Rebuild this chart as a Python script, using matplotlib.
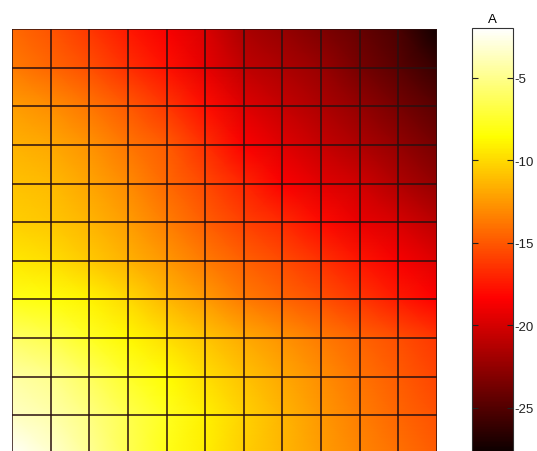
import numpy as np
import matplotlib
matplotlib.use("Agg")
import matplotlib.pyplot as plt

plt.rcParams['font.family'] = ['Liberation Sans', 'DejaVu Sans']

# grid node coordinates (columns left->right, rows bottom->top)
x_nodes = list(range(12))
y_nodes = list(range(12))

# values of A at the grid nodes, rows listed from bottom (row 0) to top (row 11)
A_rows = [
    [-2.2, -3.3, -4.8, -6.5, -8.0, -9.2, -10.4, -11.3, -12.3, -13.2, -14.0, -14.8],
    [-3.6, -4.2, -5.3, -6.6, -7.8, -9.1, -10.3, -11.4, -12.5, -13.5, -14.4, -15.3],
    [-4.4, -5.0, -6.2, -7.5, -8.6, -9.8, -10.9, -11.9, -12.9, -13.9, -14.8, -15.8],
    [-6.0, -6.6, -7.7, -8.8, -9.8, -10.8, -11.8, -12.7, -13.6, -14.5, -15.4, -16.3],
    [-8.0, -8.3, -9.0, -10.0, -11.3, -12.4, -13.6, -14.4, -15.3, -16.3, -17.4, -18.4],
    [-9.4, -9.8, -10.6, -11.5, -12.5, -13.6, -14.6, -15.5, -16.5, -17.6, -18.6, -19.6],
    [-10.4, -10.7, -11.4, -12.3, -13.5, -14.7, -15.9, -16.8, -18.0, -19.2, -19.9, -21.0],
    [-10.9, -11.2, -12.0, -13.0, -14.3, -15.6, -17.0, -18.5, -19.5, -20.2, -21.4, -22.5],
    [-11.5, -11.9, -12.7, -13.8, -14.9, -16.6, -18.5, -19.6, -20.6, -21.5, -22.5, -23.6],
    [-12.3, -12.9, -13.8, -15.0, -16.3, -17.9, -19.6, -20.6, -21.5, -22.5, -23.6, -24.7],
    [-13.6, -14.4, -15.4, -16.6, -17.8, -19.3, -20.8, -21.5, -22.3, -23.6, -24.7, -26.0],
    [-14.3, -15.2, -16.3, -17.5, -18.6, -19.8, -21.6, -22.4, -23.3, -24.2, -25.3, -27.4],
]

# colour limits shown on the colorbar
c_min, c_max = -27.8, -2.0
cbar_ticks = [-5, -10, -15, -20, -25]
cbar_label = "A"

W, H = 537, 452
fig = plt.figure(figsize=(W / 100, H / 100), dpi=100)

ax = fig.add_axes([12 / W, 1 - 455 / H, 425 / W, 425 / H])
X, Y = np.meshgrid(x_nodes, y_nodes)
Z = np.array(A_rows)
mesh = ax.pcolormesh(X, Y, Z, cmap='hot', shading='gouraud',
                     vmin=c_min, vmax=c_max)
ax.vlines(x_nodes, y_nodes[0], y_nodes[-1], colors='#2a1010', lw=1.1)
ax.hlines(y_nodes, x_nodes[0], x_nodes[-1], colors='#2a1010', lw=1.1)
ax.set_xlim(x_nodes[0], x_nodes[-1])
ax.set_ylim(y_nodes[0], y_nodes[-1])
ax.set_axis_off()

cax = fig.add_axes([472 / W, 1 - 455 / H, 41 / W, 426 / H])
cb = fig.colorbar(mesh, cax=cax)
cb.set_ticks(cbar_ticks)
cb.set_ticklabels([str(t) for t in cbar_ticks])
cb.outline.set_edgecolor('#333333')
cb.outline.set_linewidth(0.8)
cax.tick_params(axis='y', which='both', direction='in', length=4, width=0.8,
                left=True, right=True, labelleft=False, labelright=True,
                labelsize=9.5, pad=1, colors='#222222')
cax.minorticks_off()
cax.set_title(cbar_label, fontsize=9.5, pad=4)

fig.savefig("out.png", dpi=100)
